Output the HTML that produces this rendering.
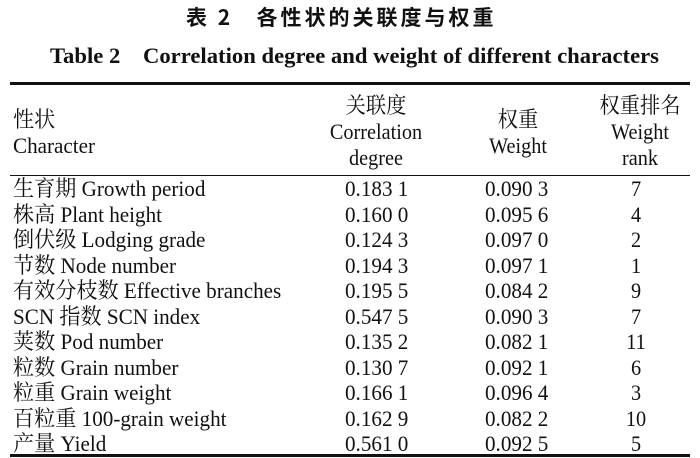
<!DOCTYPE html>
<html><head><meta charset="utf-8"><style>
body{margin:0;width:700px;height:458px;background:#fff;position:relative;overflow:hidden;font-family:"Liberation Serif","Noto Serif CJK SC",serif;color:#111}
.t{position:absolute;white-space:nowrap;font-size:22px;line-height:24px;transform:scaleX(0.96);transform-origin:left top}
.c{position:absolute;white-space:nowrap;font-size:22px;line-height:24px;text-align:center;width:160px;transform:scaleX(0.92);transform-origin:center top}
.rule{position:absolute;left:10px;width:680px;background:#111}
</style></head><body>
<div class="t" style="left:186px;top:5px;font-weight:bold;font-family:'Noto Sans CJK SC',sans-serif;font-size:21px;letter-spacing:3px;transform:none">表 2&nbsp;&nbsp;&nbsp;各性状的关联度与权重</div>
<div class="t" style="left:50px;top:44px;font-weight:bold;font-size:22px;transform:scaleX(1.03)">Table 2&nbsp;&nbsp;&nbsp;&nbsp;Correlation degree and weight of different characters</div>
<div class="rule" style="top:82px;height:3px"></div>
<div class="t" style="left:13px;top:107px;line-height:26px">性状<br>Character</div>
<div class="c" style="left:296px;top:93px;line-height:26px">关联度<br>Correlation<br>degree</div>
<div class="c" style="left:438px;top:107px;line-height:26px">权重<br>Weight</div>
<div class="c" style="left:560px;top:93px;line-height:26px">权重排名<br>Weight<br>rank</div>
<div class="rule" style="top:175px;height:1px"></div>
<div class="rule" style="top:454px;height:3px"></div>
<script>
const names=["生育期 Growth period","株高 Plant height","倒伏级 Lodging grade","节数 Node number","有效分枝数 Effective branches","SCN 指数 SCN index","荚数 Pod number","粒数 Grain number","粒重 Grain weight","百粒重 100-grain weight","产量 Yield"];
const corr=["0.183 1","0.160 0","0.124 3","0.194 3","0.195 5","0.547 5","0.135 2","0.130 7","0.166 1","0.162 9","0.561 0"];
const weight=["0.090 3","0.095 6","0.097 0","0.097 1","0.084 2","0.090 3","0.082 1","0.092 1","0.096 4","0.082 2","0.092 5"];
const rank=["7","4","2","1","9","7","11","6","3","10","5"];
const root=document.body;
names.forEach((n,i)=>{
  const y=177+i*25.5;
  const a=document.createElement('div');a.className='t';a.style.left='13px';a.style.top=y+'px';a.textContent=n;
  
  
  root.appendChild(a);
  const b=document.createElement('div');b.className='t';b.style.left='345px';b.style.top=y+'px';b.textContent=corr[i];
  
  
  root.appendChild(b);
  const c=document.createElement('div');c.className='t';c.style.left='485px';c.style.top=y+'px';c.textContent=weight[i];
  
  
  root.appendChild(c);
  const d=document.createElement('div');d.className='c';d.style.left='556px';d.style.top=y+'px';d.textContent=rank[i];
  
  
  root.appendChild(d);
});
</script>
</body></html>
